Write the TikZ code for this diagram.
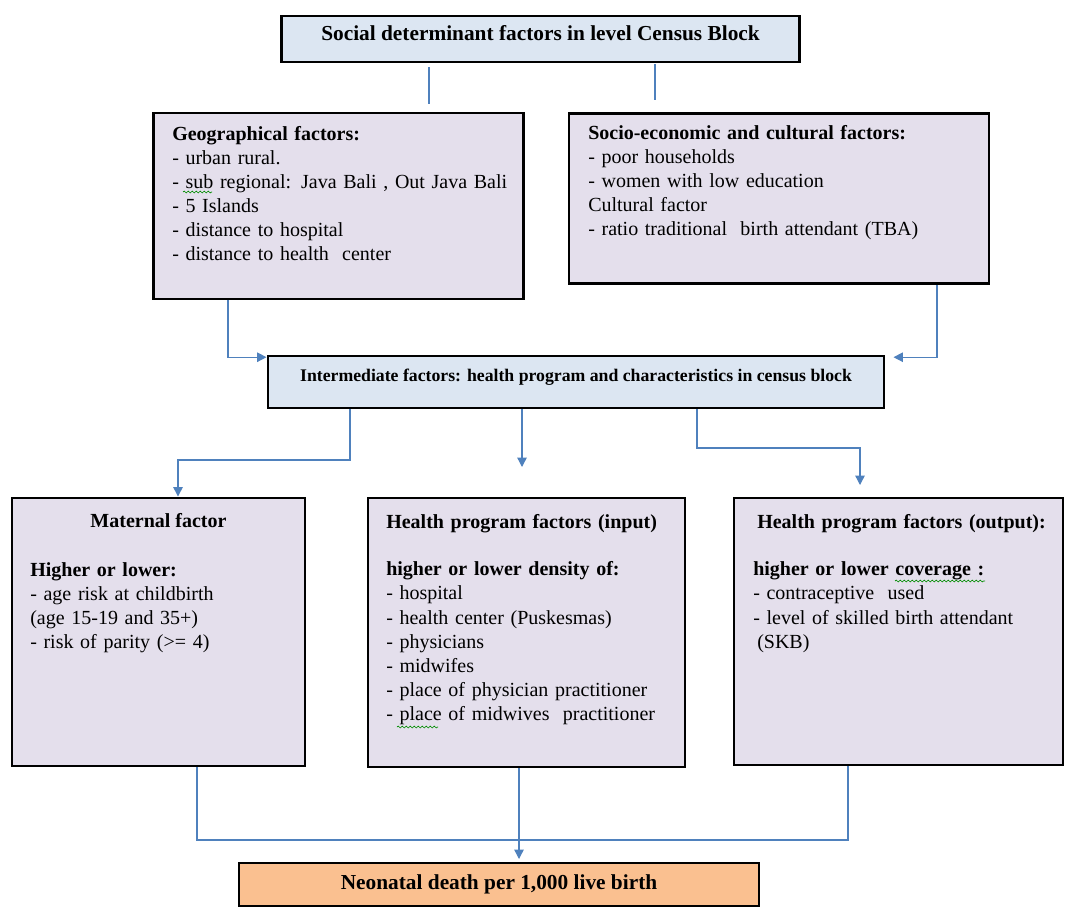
\documentclass[tikz,border=0pt]{standalone}
\usepackage{fontspec}
\setmainfont{Liberation Serif}
\usetikzlibrary{arrows.meta,decorations.pathmorphing}
\definecolor{lnkblue}{HTML}{4F81BD}
\definecolor{headfill}{HTML}{DCE6F2}
\definecolor{factfill}{HTML}{E4DFEC}
\definecolor{endfill}{HTML}{FAC090}
\tikzset{
  headbox/.style={draw, line width=2.2pt, fill=headfill, inner sep=0pt, font=\bfseries\fontsize{16}{19}\selectfont},
  factbox/.style={draw, line width=2.2pt, fill=factfill, inner sep=0pt},
  endbox/.style={draw, line width=2.2pt, fill=endfill, inner sep=0pt, font=\bfseries\fontsize{16}{19}\selectfont},
  txt/.style={anchor=base west, inner sep=0pt, align=left, text width=#1, font=\fontsize{15}{18.1}\selectfont},
  lnk/.style={draw=lnkblue, line width=1pt},
  arr/.style={lnk, -{Triangle[length=7pt,width=7pt]}},
  squig/.style={draw=green!55!black, line width=0.5pt, decorate, decoration={snake, amplitude=0.7pt, segment length=3pt}},
}

\begin{document}
\begin{tikzpicture}[x=0.75pt, y=-0.75pt]
  \useasboundingbox (0,0) rectangle (1067,908);
  % boxes
  \node[headbox, minimum width=389pt, minimum height=34.5pt, text depth=9pt] (top) at (540.5,39)
    {Social determinant factors in level Census Block};
  \node[factbox, minimum width=278pt, minimum height=139.5pt] (geo) at (338.5,206) {};
  \node[factbox, minimum width=315pt, minimum height=128pt] (soc) at (779,198.5) {};
  \node[headbox, minimum width=462pt, minimum height=39pt, text depth=10.5pt,
        font=\bfseries\fontsize{13.3}{15}\selectfont] (mid) at (576,382)
    {Intermediate factors: health program and characteristics in census block};
  \node[factbox, minimum width=219.75pt, minimum height=201pt] (mat) at (158.5,632) {};
  \node[factbox, minimum width=237.75pt, minimum height=201.75pt] (inp) at (526.5,632.5) {};
  \node[factbox, minimum width=246.75pt, minimum height=200.25pt] (outp) at (898.5,631.5) {};
  \node[endbox, minimum width=390pt, minimum height=32.25pt] (neo) at (499,884.5)
    {Neonatal death per 1,000 live birth};

  % box texts
  \node[txt=260pt] (geotxt) at (172,140) {\textbf{Geographical factors:}\\
    - urban rural.\\
    - sub regional: Java Bali , Out Java Bali\\
    - 5 Islands\\
    - distance to hospital\\
    - distance to health~ center};
  \node[txt=300pt] (soctxt) at (588,139) {\textbf{Socio-economic and cultural factors:}\\
    - poor households\\
    - women with low education\\
    Cultural factor\\
    - ratio traditional~ birth attendant (TBA)};
  \node[anchor=base, inner sep=0pt, font=\bfseries\fontsize{15}{18.1}\selectfont] (mattitle) at (158.5,527)
    {Maternal factor};
  \node[txt=205pt] (mattxt) at (30,576) {\textbf{Higher or lower:}\\
    - age risk at childbirth\\
    (age 15-19 and 35+)\\
    - risk of parity (>= 4)};
  \node[txt=225pt] (inptxt) at (386,528) {\textbf{Health program factors (input)}\\[17.7pt]
    \textbf{higher or lower density of:}\\
    - hospital\\
    - health center (Puskesmas)\\
    - physicians\\
    - midwifes\\
    - place of physician practitioner\\
    - place of midwives~ practitioner};
  \node[txt=235pt] (outtxt) at (753,528) {\hspace*{3pt}\textbf{Health program factors (output):}\\[17.7pt]
    \textbf{higher or lower coverage :}\\
    - contraceptive~ used\\
    - level of skilled birth attendant\\
    \hspace*{3pt}(SKB)};

  % spell-check marks
  \draw[squig] (183,192) -- (212,192);
  \draw[squig] (397,727) -- (438,727);
  \draw[squig] (895,581) -- (985,581);

  % connectors
  \coordinate (t1) at (429,104);
  \coordinate (t2) at (655,100);
  \draw[lnk] (t1 |- 0,67) -- (t1);
  \draw[lnk] (t2 |- 0,64) -- (t2);
  \draw[arr] (228,0 |- geo.south) |- ([yshift=-2pt]mid.north west);
  \draw[arr] (937,0 |- soc.south) |- ([xshift=6pt,yshift=-2pt]mid.north east);
  \coordinate (m2) at (522,467);
  \coordinate (m3) at (860,485);
  \draw[arr] (350,0 |- mid.south) -- (350,460) -| (178,0 |- mat.north);
  \draw[arr] (m2 |- mid.south) -- (m2);
  \draw[arr] (697,0 |- mid.south) -- (697,448) -| (m3);
  \coordinate (j) at (519,840);
  \coordinate (n) at (519,859);
  \draw[lnk] (197,0 |- mat.south) |- (j);
  \draw[lnk] (848,0 |- outp.south) |- (j);
  \draw[arr] (n |- inp.south) -- (n);
\end{tikzpicture}
\end{document}
